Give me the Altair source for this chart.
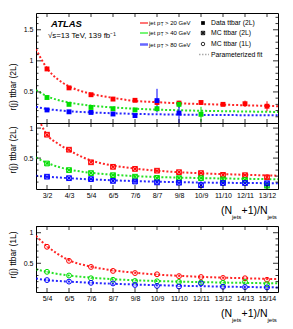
import altair as alt
import pandas as pd

FONT = "Liberation Sans"

# ---------------- data ----------------
labels_2L = ["3/2", "4/3", "5/4", "6/5", "7/6", "8/7", "9/8", "10/9", "11/10", "12/11", "13/12"]
labels_1L = ["5/4", "6/5", "7/6", "8/7", "9/8", "10/9", "11/10", "12/11", "13/12", "14/13", "15/14"]
series = ["20", "40", "80"]
colors = ["#ff0000", "#00dd00", "#0000ff"]

# Data ttbar (2L)
data2L_red = [0.87, 0.565, 0.455, 0.385, 0.365, 0.33, 0.32, 0.33, 0.30, 0.31, 0.27]
data2L_red_err = [0.02, 0.015, 0.015, 0.015, 0.02, 0.025, 0.03, 0.03, 0.03, 0.05, 0.08]
data2L_green = [0.41, 0.30, 0.25, 0.23, 0.21, 0.23, 0.30, 0.14]
data2L_green_err = [0.015, 0.015, 0.015, 0.015, 0.02, 0.04, 0.06, 0.12]
data2L_blue = [0.21, 0.18, 0.17, 0.145, 0.12, 0.36, 0.16]
data2L_blue_err = [0.015, 0.015, 0.015, 0.02, 0.03, 0.19, 0.18]

# MC ttbar (2L)
mc2L_red = [0.89, 0.64, 0.43, 0.355, 0.32, 0.29, 0.265, 0.25, 0.22, 0.215, 0.18]
mc2L_green = [0.41, 0.30, 0.25, 0.215, 0.19, 0.17, 0.165, 0.165, 0.145, 0.135, 0.04]
mc2L_blue = [0.19, 0.165, 0.15, 0.12, 0.11, 0.095, 0.09, 0.05, 0.085, 0.085, 0.08]
mc2L_red_err = [0.01, 0.01, 0.01, 0.01, 0.01, 0.01, 0.01, 0.01, 0.01, 0.015, 0.03]
mc2L_green_err = [0.01, 0.01, 0.01, 0.01, 0.01, 0.01, 0.01, 0.01, 0.015, 0.015, 0.05]
mc2L_blue_err = [0.01, 0.01, 0.01, 0.01, 0.01, 0.01, 0.01, 0.02, 0.015, 0.015, 0.02]

# MC ttbar (1L)
mc1L_red = [0.77, 0.54, 0.44, 0.375, 0.34, 0.32, 0.29, 0.275, 0.26, 0.255, 0.23]
mc1L_green = [0.36, 0.30, 0.255, 0.23, 0.21, 0.205, 0.195, 0.185, 0.18, 0.195, 0.16]
mc1L_blue = [0.225, 0.20, 0.18, 0.17, 0.145, 0.13, 0.12, 0.17, 0.115, 0.11, 0.105]

# Parameterized fits, read at these category positions
fit_x = [-0.5, 0, 0.5, 1, 2, 3, 4, 5, 6, 7, 8, 9, 10, 10.5]
fit1_red = [1.19, 0.88, 0.70, 0.59, 0.47, 0.405, 0.355, 0.335, 0.317, 0.305, 0.295, 0.285, 0.275, 0.27]
fit1_green = [0.53, 0.43, 0.37, 0.33, 0.28, 0.25, 0.23, 0.215, 0.205, 0.197, 0.19, 0.185, 0.18, 0.178]
fit1_blue = [0.26, 0.225, 0.205, 0.19, 0.17, 0.157, 0.147, 0.14, 0.135, 0.131, 0.128, 0.126, 0.124, 0.123]
fit2_red = [1.25, 0.89, 0.74, 0.63, 0.46, 0.375, 0.325, 0.29, 0.265, 0.247, 0.233, 0.222, 0.212, 0.207]
fit2_green = [0.51, 0.42, 0.355, 0.31, 0.255, 0.222, 0.20, 0.185, 0.175, 0.167, 0.16, 0.155, 0.15, 0.148]
fit2_blue = [0.205, 0.19, 0.177, 0.165, 0.145, 0.13, 0.117, 0.107, 0.099, 0.093, 0.089, 0.085, 0.082, 0.08]
fit3_red = [0.95, 0.78, 0.65, 0.55, 0.445, 0.385, 0.345, 0.315, 0.295, 0.278, 0.265, 0.255, 0.245, 0.24]
fit3_green = [0.40, 0.36, 0.325, 0.30, 0.265, 0.24, 0.222, 0.21, 0.20, 0.192, 0.185, 0.179, 0.174, 0.172]
fit3_blue = [0.25, 0.225, 0.21, 0.20, 0.18, 0.165, 0.152, 0.142, 0.133, 0.125, 0.118, 0.112, 0.107, 0.105]

# axis ticks
y1_major = [0.5, 1.0, 1.5]
y1_minor = [0.1, 0.2, 0.3, 0.4, 0.6, 0.7, 0.8, 0.9, 1.1, 1.2, 1.3, 1.4, 1.6, 1.7]
y2_major = [0.5, 1.0]
y2_minor = [0.1, 0.2, 0.3, 0.4, 0.6, 0.7, 0.8, 0.9]
y3_major = [0.5, 1.0]
y3_minor = [0.1, 0.2, 0.3, 0.4, 0.6, 0.7, 0.8, 0.9, 1.1]
x_major = list(range(11))

W = 242
H1, H2, H3 = 110, 66, 66

color_scale = alt.Scale(domain=series, range=colors)
BOXX = "M-1,-1L1,-1L1,1L-1,1Z M-1,-1L1,1 M1,-1L-1,1"


def pts_df(vals, errs):
    rows = []
    for s, v_list, e_list in zip(series, vals, errs):
        for i, (v, e) in enumerate(zip(v_list, e_list)):
            rows.append(dict(series=s, idx=i, val=v, lo=v - e, hi=v + e))
    return pd.DataFrame(rows)


def fit_df(fits):
    rows = []
    for s, f in zip(series, fits):
        for x, y in zip(fit_x, f):
            rows.append(dict(series=s, fx=x, fy=y))
    return pd.DataFrame(rows)


def txt(text, x, y, size, **kw):
    return alt.Chart(pd.DataFrame({"t": [text]})).mark_text(
        font=FONT, fontSize=size, align=kw.pop("align", "left"),
        baseline=kw.pop("baseline", "middle"), color=kw.pop("color", "black"), **kw
    ).encode(text="t:N", x=alt.value(x), y=alt.value(y))


def panel(pts, fits, ydom, ymaj, ymin, H, xlabels, marker, ytitle, ytitle_y):
    xs = alt.Scale(domain=[-0.5, 10.5], nice=False, zero=False)
    ys = alt.Scale(domain=ydom, nice=False, zero=False)
    if xlabels is not None:
        arr = "[" + ",".join("'%s'" % l for l in xlabels) + "]"
        xaxis = alt.Axis(values=x_major, labelExpr=arr + "[datum.value]", ticks=False, tickSize=0,
                         domain=False, grid=False, labelPadding=2, labelFontSize=7, labelFont=FONT,
                         labelColor="black", title=None)
    else:
        xaxis = None
    yaxis = alt.Axis(values=ymaj, format="~g", ticks=False, tickSize=0, domain=False, grid=False,
                     labelPadding=3, labelFontSize=7, labelFont=FONT, labelColor="black", title=None)

    def X(f):
        return alt.X(f + ":Q", scale=xs, axis=xaxis)

    def Y(f):
        return alt.Y(f + ":Q", scale=ys, axis=yaxis)

    C = alt.Color("series:N", scale=color_scale, legend=None)
    layers = []
    layers.append(
        alt.Chart(fit_df(fits)).mark_line(strokeDash=[2, 2], strokeWidth=2, clip=True,
                                          interpolate="monotone", opacity=0.85)
        .encode(x=X("fx"), y=Y("fy"), color=C)
    )
    layers.append(
        alt.Chart(pts).mark_rule(strokeWidth=1, clip=True)
        .encode(x=X("idx"), y=Y("lo"), y2="hi:Q", color=C)
    )
    if marker == "square":
        layers.append(alt.Chart(pts).mark_point(shape="square", filled=True, size=24, opacity=1, clip=True)
                      .encode(x=X("idx"), y=Y("val"), color=C))
    elif marker == "boxx":
        layers.append(alt.Chart(pts).mark_point(shape=BOXX, filled=True, fillOpacity=0.35, strokeWidth=1,
                                                size=22, opacity=1, clip=True)
                      .encode(x=X("idx"), y=Y("val"),
                              fill=alt.Fill("series:N", scale=color_scale, legend=None),
                              stroke=alt.Stroke("series:N", scale=color_scale, legend=None)))
    else:
        layers.append(alt.Chart(pts).mark_point(shape="circle", filled=False, strokeWidth=1,
                                                size=24, opacity=1, clip=True)
                      .encode(x=X("idx"), y=Y("val"), color=C))

    # inward ticks
    ymaj_df = pd.DataFrame({"v": ymaj})
    ymin_df = pd.DataFrame({"v": ymin})
    xmaj_df = pd.DataFrame({"v": x_major})
    tk = dict(color="black", strokeWidth=0.8)
    layers += [
        alt.Chart(ymaj_df).mark_rule(**tk).encode(y=Y("v"), x=alt.value(0), x2=alt.value(5)),
        alt.Chart(ymin_df).mark_rule(**tk).encode(y=Y("v"), x=alt.value(0), x2=alt.value(2.5)),
        alt.Chart(ymaj_df).mark_rule(**tk).encode(y=Y("v"), x=alt.value(W), x2=alt.value(W - 5)),
        alt.Chart(ymin_df).mark_rule(**tk).encode(y=Y("v"), x=alt.value(W), x2=alt.value(W - 2.5)),
        alt.Chart(xmaj_df).mark_rule(**tk).encode(x=X("v"), y=alt.value(H), y2=alt.value(H - 4)),
        alt.Chart(xmaj_df).mark_rule(**tk).encode(x=X("v"), y=alt.value(0), y2=alt.value(4)),
    ]
    layers.append(txt(ytitle, -23, ytitle_y, 8.5, angle=270, align="center"))
    if xlabels is not None:
        layers += [
            txt("(N", 185, H + 21.5, 10.5),
            txt("jets", 196, H + 27.5, 6),
            txt("+1)/N", 205.5, H + 21.5, 10.5),
            txt("jets", 231.5, H + 27.5, 6),
        ]
    return layers


# ---------- panel 1 ----------
p1_layers = panel(
    pts_df([data2L_red, data2L_green, data2L_blue], [data2L_red_err, data2L_green_err, data2L_blue_err]),
    [fit1_red, fit1_green, fit1_blue], [0.0, 1.77], y1_major, y1_minor, H1, None, "square",
    "r(j) ttbar (2L)", 74,
)
# ATLAS label and legend
p1_layers += [
    txt("ATLAS", 15, 11, 9.5, fontWeight="bold", fontStyle="italic"),
    txt("√s=13 TeV, 139 fb⁻¹", 12, 23, 7.8),
]
leg_y = [10, 20, 31.5]
leg_cols = ["#ff0000", "#00ee00", "#5555ff"]
leg_w = [1.2, 1.2, 2.5]
leg_txt = ["> 20 GeV", "> 40 GeV", "> 80 GeV"]
for yy, cc, ww, tt in zip(leg_y, leg_cols, leg_w, leg_txt):
    p1_layers += [
        alt.Chart(pd.DataFrame({"a": [0]})).mark_rule(color=cc, strokeWidth=ww, opacity=0.9)
        .encode(x=alt.value(104), x2=alt.value(112), y=alt.value(yy)),
        txt("jet p", 113, yy, 6),
        txt("T", 124.8, yy + 2, 4.5),
        txt(tt, 129, yy, 6),
    ]
one = pd.DataFrame({"a": [0]})
p1_layers += [
    alt.Chart(one).mark_point(shape="square", filled=True, color="black", size=14, opacity=1)
    .encode(x=alt.value(167), y=alt.value(10)),
    txt("Data ttbar (2L)", 175, 10, 6.8),
    alt.Chart(one).mark_point(shape=BOXX, filled=True, fill="#888888", stroke="black", strokeWidth=0.8,
                              size=12, opacity=1)
    .encode(x=alt.value(167), y=alt.value(20)),
    txt("MC ttbar (2L)", 175, 20, 6.8),
    alt.Chart(one).mark_point(shape="circle", filled=False, color="black", strokeWidth=0.8, size=12, opacity=1)
    .encode(x=alt.value(167), y=alt.value(31)),
    txt("MC ttbar (1L)", 175, 31, 6.8),
    alt.Chart(one).mark_rule(color="#aaaaaa", strokeWidth=1.5, strokeDash=[1.5, 1.5])
    .encode(x=alt.value(163), x2=alt.value(173), y=alt.value(41.5)),
    txt("Parameterized fit", 175, 41.5, 6.8),
]
p1 = alt.layer(*p1_layers).properties(width=W, height=H1)

# ---------- panel 2 ----------
p2 = alt.layer(*panel(
    pts_df([mc2L_red, mc2L_green, mc2L_blue], [mc2L_red_err, mc2L_green_err, mc2L_blue_err]),
    [fit2_red, fit2_green, fit2_blue], [-0.015, 1.085], y2_major, y2_minor, H2, labels_2L, "boxx",
    "r(j) ttbar (2L)", 27,
)).properties(width=W, height=H2)

# ---------- panel 3 ----------
zero_err = [[0.008] * 11] * 3
p3 = alt.layer(*panel(
    pts_df([mc1L_red, mc1L_green, mc1L_blue], zero_err),
    [fit3_red, fit3_green, fit3_blue], [0.03, 1.11], y3_major, y3_minor, H3, labels_1L, "circle",
    "r(j) ttbar (1L)", 29,
)).properties(width=W, height=H3)

spacer = alt.Chart(one).mark_point(opacity=0).encode(x=alt.value(0), y=alt.value(0)).properties(
    width=W, height=37, view=alt.ViewBackground(stroke="transparent")
)

chart = alt.vconcat(p1, p2, spacer, p3, spacing=0, bounds="flush").properties(
    padding={"left": 0, "top": 4, "right": 0, "bottom": 0}
).configure_view(stroke="black", strokeWidth=1)

chart.save("out.html", embed_options={"renderer": "svg", "actions": False})
